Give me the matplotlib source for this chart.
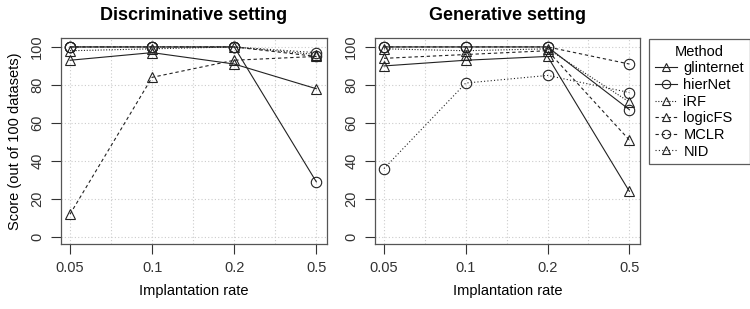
import matplotlib
matplotlib.use("Agg")
import matplotlib.pyplot as plt
from matplotlib.lines import Line2D

plt.rcParams['font.family'] = ['Liberation Sans', 'DejaVu Sans']

rates = ["0.05", "0.1", "0.2", "0.5"]
methods = ["glinternet", "hierNet", "iRF", "logicFS", "MCLR", "NID"]

disc_glinternet = [93, 97, 91, 78]
disc_hierNet = [100, 100, 100, 29]
disc_iRF = [98, 99, 100, 96]
disc_logicFS = [12, 84, 93, 95]
disc_MCLR = [100, 100, 100, 95]
disc_NID = [100, 100, 100, 97]

gen_glinternet = [90, 93, 95, 24]
gen_hierNet = [100, 100, 100, 67]
gen_iRF = [99, 98, 99, 71]
gen_logicFS = [94, 96, 98, 51]
gen_MCLR = [100, 100, 100, 91]
gen_NID = [36, 81, 85, 76]

disc = [disc_glinternet, disc_hierNet, disc_iRF, disc_logicFS, disc_MCLR, disc_NID]
gen = [gen_glinternet, gen_hierNet, gen_iRF, gen_logicFS, gen_MCLR, gen_NID]

styles = {
    "glinternet": dict(ls="-", marker="^"),
    "hierNet": dict(ls="-", marker="o"),
    "iRF": dict(ls=(0, (1, 1.5)), marker="^"),
    "logicFS": dict(ls=(0, (3, 2.5)), marker="^"),
    "MCLR": dict(ls=(0, (3, 2.5)), marker="o"),
    "NID": dict(ls=(0, (1, 2)), marker="o"),
}
legend_markers = {"glinternet": "^", "hierNet": "o", "iRF": "^", "logicFS": "^", "MCLR": "o", "NID": "^"}

W, H = 750, 309
fig = plt.figure(figsize=(7.5, 3.09), dpi=100)

def add_ax(l, r, t, b):
    return fig.add_axes([l / W, 1 - b / H, (r - l) / W, (b - t) / H])

axL = add_ax(61, 327, 38, 244)
axR = add_ax(375, 640, 38, 244)

col = "#222222"
fs = 10.5
for ax, data, title in [(axL, disc, "Discriminative setting"), (axR, gen, "Generative setting")]:
    x = list(range(len(rates)))
    for m, vals in zip(methods, data):
        st = styles[m]
        ax.plot(x, vals, linestyle=st["ls"], marker=st["marker"], color=col, lw=0.8,
                markersize=7.5, markerfacecolor="none", markeredgewidth=0.8, zorder=3)
    ax.set_xlim(-0.11, 3.13)
    ax.set_ylim(-3.7, 104.7)
    ax.set_xticks(x)
    ax.set_xticklabels(rates)
    ax.set_yticks([0, 20, 40, 60, 80, 100])
    ax.set_yticks([], minor=True)
    for gx in [0, 0.5, 1, 1.5, 2, 2.5, 3]:
        ax.axvline(gx, color="#cccccc", lw=0.8, ls=(0, (1, 2)), zorder=1)
    for gy in [0, 20, 40, 60, 80, 100]:
        ax.axhline(gy, color="#cccccc", lw=0.8, ls=(0, (1, 2)), zorder=1)
    ax.tick_params(axis="both", direction="out", length=7, width=0.8, colors="#333333",
                   labelsize=fs, pad=5)
    for lab in ax.get_yticklabels():
        lab.set_rotation(90)
        lab.set_va("center")
    for s in ax.spines.values():
        s.set_color("#555555")
        s.set_linewidth(0.9)
    ax.set_title(title, fontsize=13, fontweight="bold", pad=13)
    ax.set_xlabel("Implantation rate", fontsize=fs, labelpad=7)

axL.set_ylabel("Score (out of 100 datasets)", fontsize=fs, labelpad=6)

handles = [Line2D([0], [0], color=col, lw=0.8, linestyle=styles[m]["ls"], marker=legend_markers[m],
                  markersize=6, markerfacecolor="none", markeredgewidth=0.8) for m in methods]
leg = fig.legend(handles, methods, title="Method", loc="upper left",
                 bbox_to_anchor=(649 / W, 1 - 39 / H), fontsize=fs, title_fontsize=fs,
                 frameon=True, fancybox=False, edgecolor="#333333", handlelength=1.5,
                 handletextpad=0.45, labelspacing=0.18, borderpad=0.4, borderaxespad=0)
leg.get_frame().set_linewidth(0.9)

fig.savefig("out.png", dpi=100)
